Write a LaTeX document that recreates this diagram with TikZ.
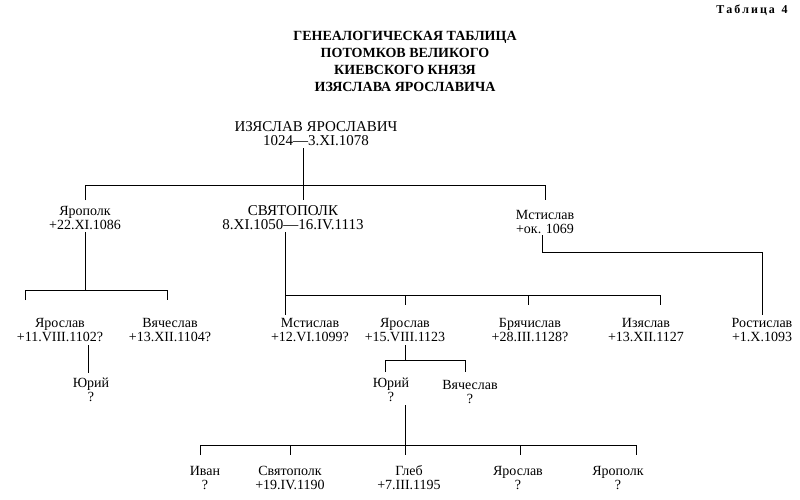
\documentclass[tikz,border=0pt]{standalone}
\usepackage{fontspec}
\setmainfont{Liberation Serif}
\begin{document}
\begin{tikzpicture}[x=1pt,y=-1pt,
  nm/.style={font=\fontsize{14}{14}\selectfont,inner sep=0pt,align=center},
  big/.style={font=\fontsize{15}{14}\selectfont},
  ttl/.style={font=\bfseries\fontsize{14}{17}\selectfont,inner sep=0pt,align=center},
  ln/.style={line width=1pt}]
\useasboundingbox (0,0) rectangle (800,499);
\node[font=\bfseries\fontsize{12}{12}\selectfont,inner sep=0pt] (tab) at (752,10) {Т\,а\,б\,л\,и\,ц\,а\;\;4};
\node[ttl] (title) at (405,61) {ГЕНЕАЛОГИЧЕСКАЯ ТАБЛИЦА\\ПОТОМКОВ ВЕЛИКОГО\\КИЕВСКОГО КНЯЗЯ\\ИЗЯСЛАВА ЯРОСЛАВИЧА};
\node[nm,big] (root) at (316,134) {ИЗЯСЛАВ ЯРОСЛАВИЧ\\1024—3.XI.1078};
\node[nm] (yp) at (85,218) {Ярополк\\+22.XI.1086};
\node[nm,big] (sv) at (293,218) {СВЯТОПОЛК\\8.XI.1050—16.IV.1113};
\node[nm] (ms) at (545,222) {Мстислав\\+ок. 1069};
\node[nm] (ys1) at (60,330) {Ярослав\\+11.VIII.1102?};
\node[nm] (vc1) at (170,330) {Вячеслав\\+13.XII.1104?};
\node[nm] (ms2) at (310,330) {Мстислав\\+12.VI.1099?};
\node[nm] (ys2) at (405,330) {Ярослав\\+15.VIII.1123};
\node[nm] (br) at (530,330) {Брячислав\\+28.III.1128?};
\node[nm] (iz) at (646,330) {Изяслав\\+13.XII.1127};
\node[nm] (ro) at (762,330) {Ростислав\\+1.X.1093};
\node[nm] (yu1) at (91,390) {Юрий\\?};
\node[nm] (yu2) at (391,390) {Юрий\\?};
\node[nm] (vc2) at (470,392) {Вячеслав\\?};
\node[nm] (iv) at (205,478) {Иван\\?};
\node[nm] (sp) at (290,478) {Святополк\\+19.IV.1190};
\node[nm] (gl) at (409,478) {Глеб\\+7.III.1195};
\node[nm] (ys3) at (518,478) {Ярослав\\?};
\node[nm] (ypl) at (618,478) {Ярополк\\?};
% lines
\draw[ln] (303,148) -- (303,185);
\draw[ln] (85,200) -- (85,185) -- (545,185) -- (545,200);
\draw[ln] (303,185) -- (303,200);
\draw[ln] (85,232) -- (85,290);
\draw[ln] (25,300) -- (25,290) -- (167,290) -- (167,300);
\draw[ln] (285,232) -- (285,315);
\draw[ln] (285,295) -- (660,295) -- (660,305);
\draw[ln] (405,295) -- (405,305);
\draw[ln] (528,295) -- (528,305);
\draw[ln] (542,235) -- (542,252) -- (762,252) -- (762,315);
\draw[ln] (88,345) -- (88,373);
\draw[ln] (405,345) -- (405,360);
\draw[ln] (385,372) -- (385,360) -- (465,360) -- (465,372);
\draw[ln] (405,405) -- (405,455);
\draw[ln] (200,455) -- (200,445) -- (636,445) -- (636,455);
\draw[ln] (290,445) -- (290,455);
\draw[ln] (520,445) -- (520,455);
\end{tikzpicture}
\end{document}
